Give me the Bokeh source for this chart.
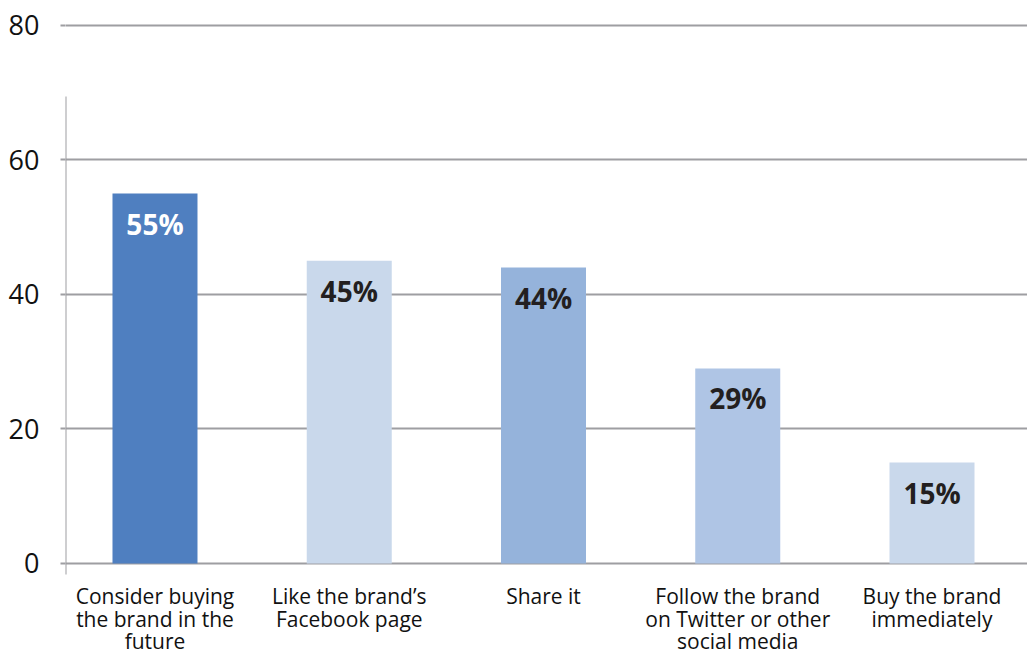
from bokeh.plotting import figure
from bokeh.models import Range1d, FixedTicker, ColumnDataSource
from bokeh.core.properties import value
from bokeh.embed import file_html
from bokeh.resources import INLINE

categories = ["Consider buying\nthe brand in the\nfuture",
              "Like the brand\u2019s\nFacebook page",
              "Share it",
              "Follow the brand\non Twitter or other\nsocial media",
              "Buy the brand\nimmediately"]
values = [55, 45, 44, 29, 15]
value_labels = ["55%", "45%", "44%", "29%", "15%"]
bar_colors = ["#4f7fc0", "#c9d8eb", "#95b3db", "#afc5e5", "#c9d8eb"]
label_colors = ["#ffffff", "#231f20", "#231f20", "#231f20", "#231f20"]
y_ticks = [0, 20, 40, 60, 80]

GRID = "#9e9ea2"
FONT = "Open Sans"
PX_PER_UNIT = 6.725

xs = list(range(len(categories)))
src = ColumnDataSource(dict(x=xs, top=values, lab=value_labels, color=bar_colors,
                            lcolor=label_colors, cat=categories,
                            ly=[v - 30 / PX_PER_UNIT for v in values],
                            cy=[-19 / PX_PER_UNIT] * len(xs)))

p = figure(width=1027, height=654, output_backend="svg", toolbar_location=None,
           x_range=Range1d(-0.4607, 4.4916), y_range=Range1d(-13.532, 83.717),
           min_border_left=65, min_border_right=0, min_border_top=0, min_border_bottom=0)
p.outline_line_color = None
p.background_fill_color = "white"
p.border_fill_color = "white"

p.xaxis.visible = False
p.xgrid.visible = False

yax = p.yaxis[0]
yax.ticker = FixedTicker(ticks=y_ticks)
yax.axis_line_color = None
yax.major_tick_out = 5
yax.major_tick_in = 0
yax.major_tick_line_color = GRID
yax.major_tick_line_width = 2
yax.minor_tick_line_color = None
yax.major_label_standoff = 21
yax.major_label_text_font = FONT
yax.major_label_text_font_size = "27px"
yax.major_label_text_color = "#111111"

p.ygrid.ticker = FixedTicker(ticks=y_ticks)
p.ygrid.grid_line_color = GRID
p.ygrid.grid_line_width = 2

# vertical axis line (shorter than the frame)
p.segment(x0=[-0.4607], y0=[-1.64], x1=[-0.4607], y1=[69.44],
          line_color=GRID, line_width=2)

p.vbar(x="x", top="top", bottom=0, width=0.4376, fill_color="color",
       line_color=None, source=src)

p.text(x="x", y="ly", text="lab", text_color="lcolor", text_font=value(FONT),
       text_font_style="bold", text_font_size="28px", text_align="center",
       text_baseline="middle", source=src)

p.text(x="x", y="cy", text="cat", text_color="#111111", text_font=value(FONT),
       text_font_size="21px", text_align="center", text_baseline="top",
       text_line_height=0.8, source=src)

open("out.html", "w").write(file_html(p, INLINE))
